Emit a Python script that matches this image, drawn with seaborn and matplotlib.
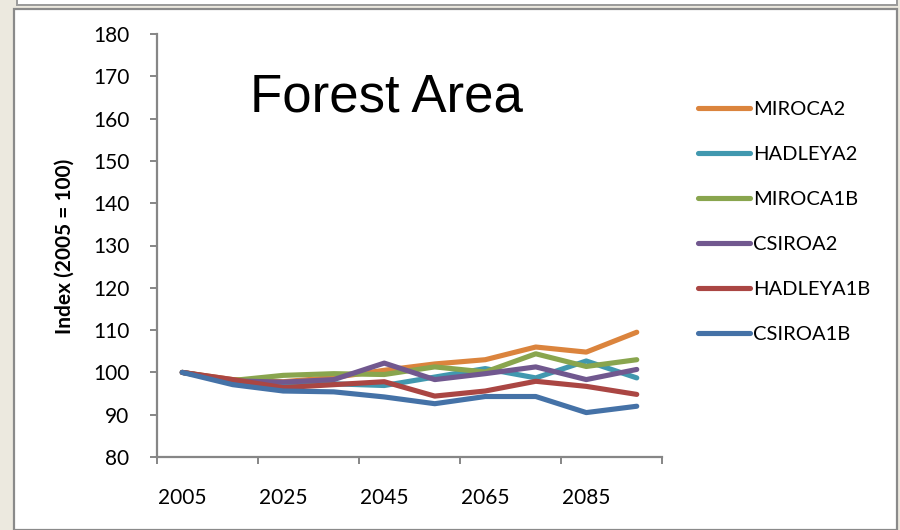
import matplotlib
matplotlib.use("Agg")
import matplotlib.pyplot as plt
from matplotlib.patches import Rectangle
from matplotlib.ticker import FixedLocator, NullFormatter
import pandas as pd
import seaborn as sns

# Forest area index by climate scenario, decade steps from 2005
years = [2005, 2015, 2025, 2035, 2045, 2055, 2065, 2075, 2085, 2095]
scenarios = ["MIROCA2", "HADLEYA2", "MIROCA1B", "CSIROA2", "HADLEYA1B", "CSIROA1B"]
miroca2 = [100, 98.3, 97.8, 98.8, 100.5, 102.0, 103.0, 106.0, 104.8, 109.5]
hadleya2 = [100, 98.0, 97.2, 97.3, 96.9, 98.9, 100.9, 98.7, 102.7, 98.7]
miroca1b = [100, 98.1, 99.3, 99.7, 99.5, 101.3, 100.1, 104.4, 101.4, 103.0]
csiroa2 = [100, 98.0, 97.7, 98.3, 102.2, 98.3, 99.7, 101.3, 98.3, 100.7]
hadleya1b = [100, 98.3, 96.4, 97.1, 97.8, 94.4, 95.6, 97.9, 96.7, 94.8]
csiroa1b = [100, 97.1, 95.6, 95.4, 94.2, 92.6, 94.3, 94.3, 90.5, 92.0]
tick_labels = ["2005", "2025", "2045", "2065", "2085"]

series = [miroca2, hadleya2, miroca1b, csiroa2, hadleya1b, csiroa1b]
df = pd.DataFrame({
    "Year": years * len(scenarios),
    "Index": [v for s in series for v in s],
    "Scenario": [name for name in scenarios for _ in years],
})

colors = ["#DB843D", "#4198AF", "#89A54E", "#71588F", "#AA4643", "#4572A7"]
palette = dict(zip(scenarios, colors))

sns.set_theme(style="white")
plt.rcParams["font.family"] = ["Lato", "DejaVu Sans"]
plt.rcParams["text.color"] = "black"

fig = plt.figure(figsize=(9, 5.3), dpi=100, facecolor="#ECE9DF")

# window frame around the chart
fig.patches.append(Rectangle((14 / 900, 0), 883 / 900, 1 - 9 / 530,
                             transform=fig.transFigure, facecolor="white",
                             edgecolor="#8A8A8A", linewidth=1.6, zorder=-5))
fig.patches.append(Rectangle((17 / 900, 1 - 5 / 530), 880 / 900, 10 / 530,
                             transform=fig.transFigure, facecolor="white",
                             edgecolor="#9A9A9A", linewidth=1.4, zorder=-5))

ax = fig.add_axes([157 / 900, 73 / 530, 505 / 900, 423 / 530])
ax.set_facecolor("none")
ax.set_zorder(2)

sns.lineplot(data=df, x="Year", y="Index", hue="Scenario", hue_order=scenarios,
             palette=palette, linewidth=3.7, ax=ax, legend=False,
             solid_capstyle="round", solid_joinstyle="round")

ax.set_xlim(2000, 2100)
ax.set_ylim(80, 180)
ax.set_yticks(range(80, 181, 10))
ax.xaxis.set_major_locator(FixedLocator(range(2000, 2101, 20)))
ax.xaxis.set_major_formatter(NullFormatter())
ax.xaxis.set_minor_locator(FixedLocator([int(t) for t in tick_labels]))
ax.set_xticklabels(tick_labels, minor=True)

for side in ["top", "right"]:
    ax.spines[side].set_visible(False)
for side in ["left", "bottom"]:
    ax.spines[side].set_color("#868686")
    ax.spines[side].set_linewidth(1.6)

ax.tick_params(axis="y", which="major", direction="out", length=5, width=1.4,
               color="#868686", pad=15, labelsize=15, labelcolor="black", left=True)
ax.tick_params(axis="x", which="major", direction="out", length=5, width=1.4,
               color="#868686", bottom=True)
ax.tick_params(axis="x", which="minor", length=0, pad=22, labelsize=15,
               labelcolor="black", bottom=True)
ax.set_xlabel("")
ax.set_ylabel("")

fig.text(65 / 900, 1 - 246 / 530, "Index (2005 = 100)", rotation=90,
         ha="center", va="center", fontsize=15, fontweight="bold")
fig.text(386 / 900, 1 - 97 / 530, "Forest Area", ha="center", va="center",
         fontsize=38, family=["Liberation Sans", "DejaVu Sans"])

handles = [plt.Line2D([], [], color=palette[s], linewidth=3.7, solid_capstyle="round")
           for s in scenarios]
fig.legend(handles, scenarios, loc="upper left",
           bbox_to_anchor=(690 / 900, 1 - 93 / 530), frameon=False,
           fontsize=14.5, handlelength=2.6, handletextpad=0.15, labelspacing=1.38,
           borderaxespad=0)

fig.savefig("out.png", dpi=100, facecolor=fig.get_facecolor())
